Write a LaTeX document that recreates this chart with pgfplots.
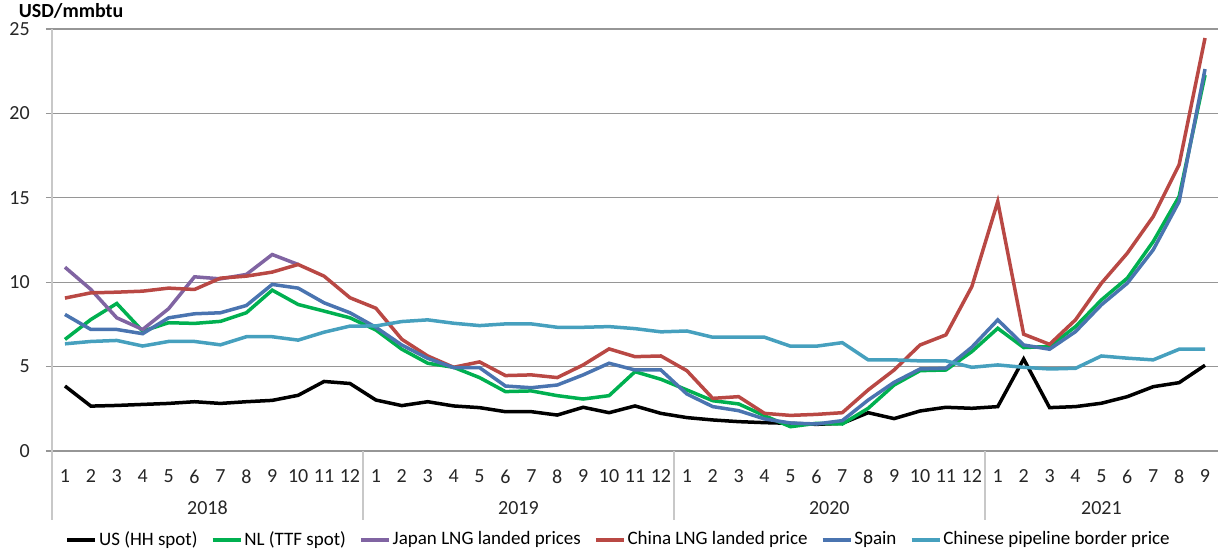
\documentclass[border=0pt]{standalone}
\usepackage{fontspec}
\setmainfont{Carlito}
\usepackage{pgfplots}
\usepackage{pgfplotstable}
\pgfplotsset{compat=1.18}
\definecolor{cNL}{RGB}{0,176,80}
\definecolor{cJP}{RGB}{128,100,162}
\definecolor{cCN}{RGB}{185,72,68}
\definecolor{cES}{RGB}{74,116,176}
\definecolor{cPP}{RGB}{70,160,190}
\definecolor{gridc}{RGB}{150,150,150}
\definecolor{axc}{RGB}{200,200,200}

\pgfplotstableread{
m us nl cn es pp
1 3.85 6.61 9.06 8.09 6.35
2 2.66 7.79 9.37 7.20 6.49
3 2.70 8.74 9.41 7.20 6.55
4 2.76 7.10 9.47 6.95 6.22
5 2.82 7.60 9.65 7.89 6.49
6 2.92 7.56 9.57 8.13 6.49
7 2.82 7.68 10.24 8.19 6.29
8 2.92 8.19 10.36 8.62 6.77
9 3.00 9.53 10.60 9.87 6.77
10 3.30 8.68 11.05 9.65 6.57
11 4.12 8.29 10.36 8.78 7.04
12 4.00 7.89 9.08 8.19 7.40
13 3.02 7.17 8.46 7.33 7.41
14 2.69 6.03 6.62 6.28 7.67
15 2.92 5.20 5.63 5.49 7.77
16 2.67 4.96 4.96 4.94 7.57
17 2.57 4.35 5.28 4.94 7.43
18 2.33 3.52 4.47 3.85 7.53
19 2.33 3.56 4.51 3.75 7.53
20 2.13 3.28 4.35 3.91 7.33
21 2.59 3.08 5.10 4.51 7.33
22 2.27 3.28 6.05 5.20 7.37
23 2.67 4.70 5.59 4.80 7.25
24 2.23 4.25 5.63 4.80 7.06
25 1.98 3.62 4.76 3.38 7.11
26 1.84 2.98 3.12 2.63 6.74
27 1.74 2.79 3.22 2.39 6.74
28 1.68 2.09 2.23 1.90 6.74
29 1.64 1.44 2.11 1.66 6.21
30 1.58 1.64 2.17 1.60 6.21
31 1.64 1.60 2.27 1.80 6.42
32 2.27 2.53 3.62 3.02 5.40
33 1.92 3.91 4.80 4.07 5.40
34 2.37 4.76 6.28 4.86 5.34
35 2.59 4.80 6.88 4.90 5.34
36 2.53 5.89 9.74 6.15 4.96
37 2.63 7.27 14.78 7.77 5.10
38 5.45 6.13 6.92 6.28 4.96
39 2.57 6.19 6.32 6.03 4.86
40 2.63 7.37 7.77 7.07 4.90
41 2.83 8.95 9.94 8.66 5.63
42 3.22 10.24 11.72 9.94 5.50
43 3.81 12.41 13.89 11.92 5.40
44 4.05 15.08 16.96 14.78 6.03
45 5.08 22.27 24.47 22.63 6.03
}\data

\pgfplotstableread{
m jp
1 10.89
2 9.57
3 7.89
4 7.20
5 8.43
6 10.32
7 10.20
8 10.46
9 11.64
10 11.05
}\japan

\begin{document}
\begin{tikzpicture}
\begin{axis}[
  scale only axis, width=466.4pt, height=168.8pt,
  at={(0,0)}, anchor=south west,
  clip=false,
  xmin=0.5, xmax=45.5, ymin=0, ymax=25,
  axis lines=left, axis line style={-},
  x axis line style={draw=gridc, line width=0.5pt},
  y axis line style={draw=axc, line width=1pt},
  ytick={0,5,...,25},
  xtick={1,...,45},
  xticklabels={1,2,3,4,5,6,7,8,9,10,11,12,1,2,3,4,5,6,7,8,9,10,11,12,1,2,3,4,5,6,7,8,9,10,11,12,1,2,3,4,5,6,7,8,9},
  x tick style={draw=none},
  tick align=outside,
  major tick length=2.4pt,
  y tick style={draw=gridc, line width=0.5pt},
  ymajorgrids,
  grid style={draw=gridc, line width=0.5pt},
  /pgf/number format/assume math mode=true,
  tick label style={font=\fontsize{8}{9}\selectfont, text=black!85},
  xticklabel style={yshift=-1.5pt},
  yticklabel style={xshift=-3pt},
  legend columns=6,
  legend style={at={(0.486,-0.211)}, anchor=center, draw=none, fill=none,
    font=\fontsize{7.6}{9}\selectfont, column sep=0pt, inner sep=0pt,
    nodes={inner sep=0.8pt},
    /tikz/every even column/.append style={column sep=4.5pt}},
  legend image code/.code={\draw[#1] (0pt,0pt) -- (11.2pt,0pt);},
  every axis plot/.append style={line width=1.4pt, mark=none},
]
\addplot[black] table[x=m,y=us] {\data};
\addlegendentry{US (HH spot)}
\addplot[cNL] table[x=m,y=nl] {\data};
\addlegendentry{NL (TTF spot)}
\addplot[cJP] table[x=m,y=jp] {\japan};
\addlegendentry{Japan LNG landed prices}
\addplot[cCN] table[x=m,y=cn] {\data};
\addlegendentry{China LNG landed price}
\addplot[cES] table[x=m,y=es] {\data};
\addlegendentry{Spain}
\addplot[cPP] table[x=m,y=pp] {\data};
\addlegendentry{Chinese pipeline border price}

\draw[axc, line width=0.8pt] (axis cs:0.5,0) -- ++(0pt,-27.6pt);
\draw[axc, line width=0.8pt] (axis cs:12.5,0) -- ++(0pt,-27.6pt);
\draw[axc, line width=0.8pt] (axis cs:24.5,0) -- ++(0pt,-27.6pt);
\draw[axc, line width=0.8pt] (axis cs:36.5,0) -- ++(0pt,-27.6pt);
\node[font=\fontsize{8}{9}\selectfont, text=black!85, yshift=-22.8pt] at (axis cs:6.5,0) {2018};
\node[font=\fontsize{8}{9}\selectfont, text=black!85, yshift=-22.8pt] at (axis cs:18.5,0) {2019};
\node[font=\fontsize{8}{9}\selectfont, text=black!85, yshift=-22.8pt] at (axis cs:30.5,0) {2020};
\node[font=\fontsize{8}{9}\selectfont, text=black!85, yshift=-22.8pt] at (axis cs:41,0) {2021};
\node[anchor=west, font=\bfseries\fontsize{8}{9}\selectfont, xshift=-16.8pt, yshift=7.2pt] at (rel axis cs:0,1) {USD/mmbtu};
\end{axis}
\pgfresetboundingbox
\path[use as bounding box] (-20.8pt,-40.4pt) rectangle (466.8pt,180.4pt);
\end{tikzpicture}
\end{document}
